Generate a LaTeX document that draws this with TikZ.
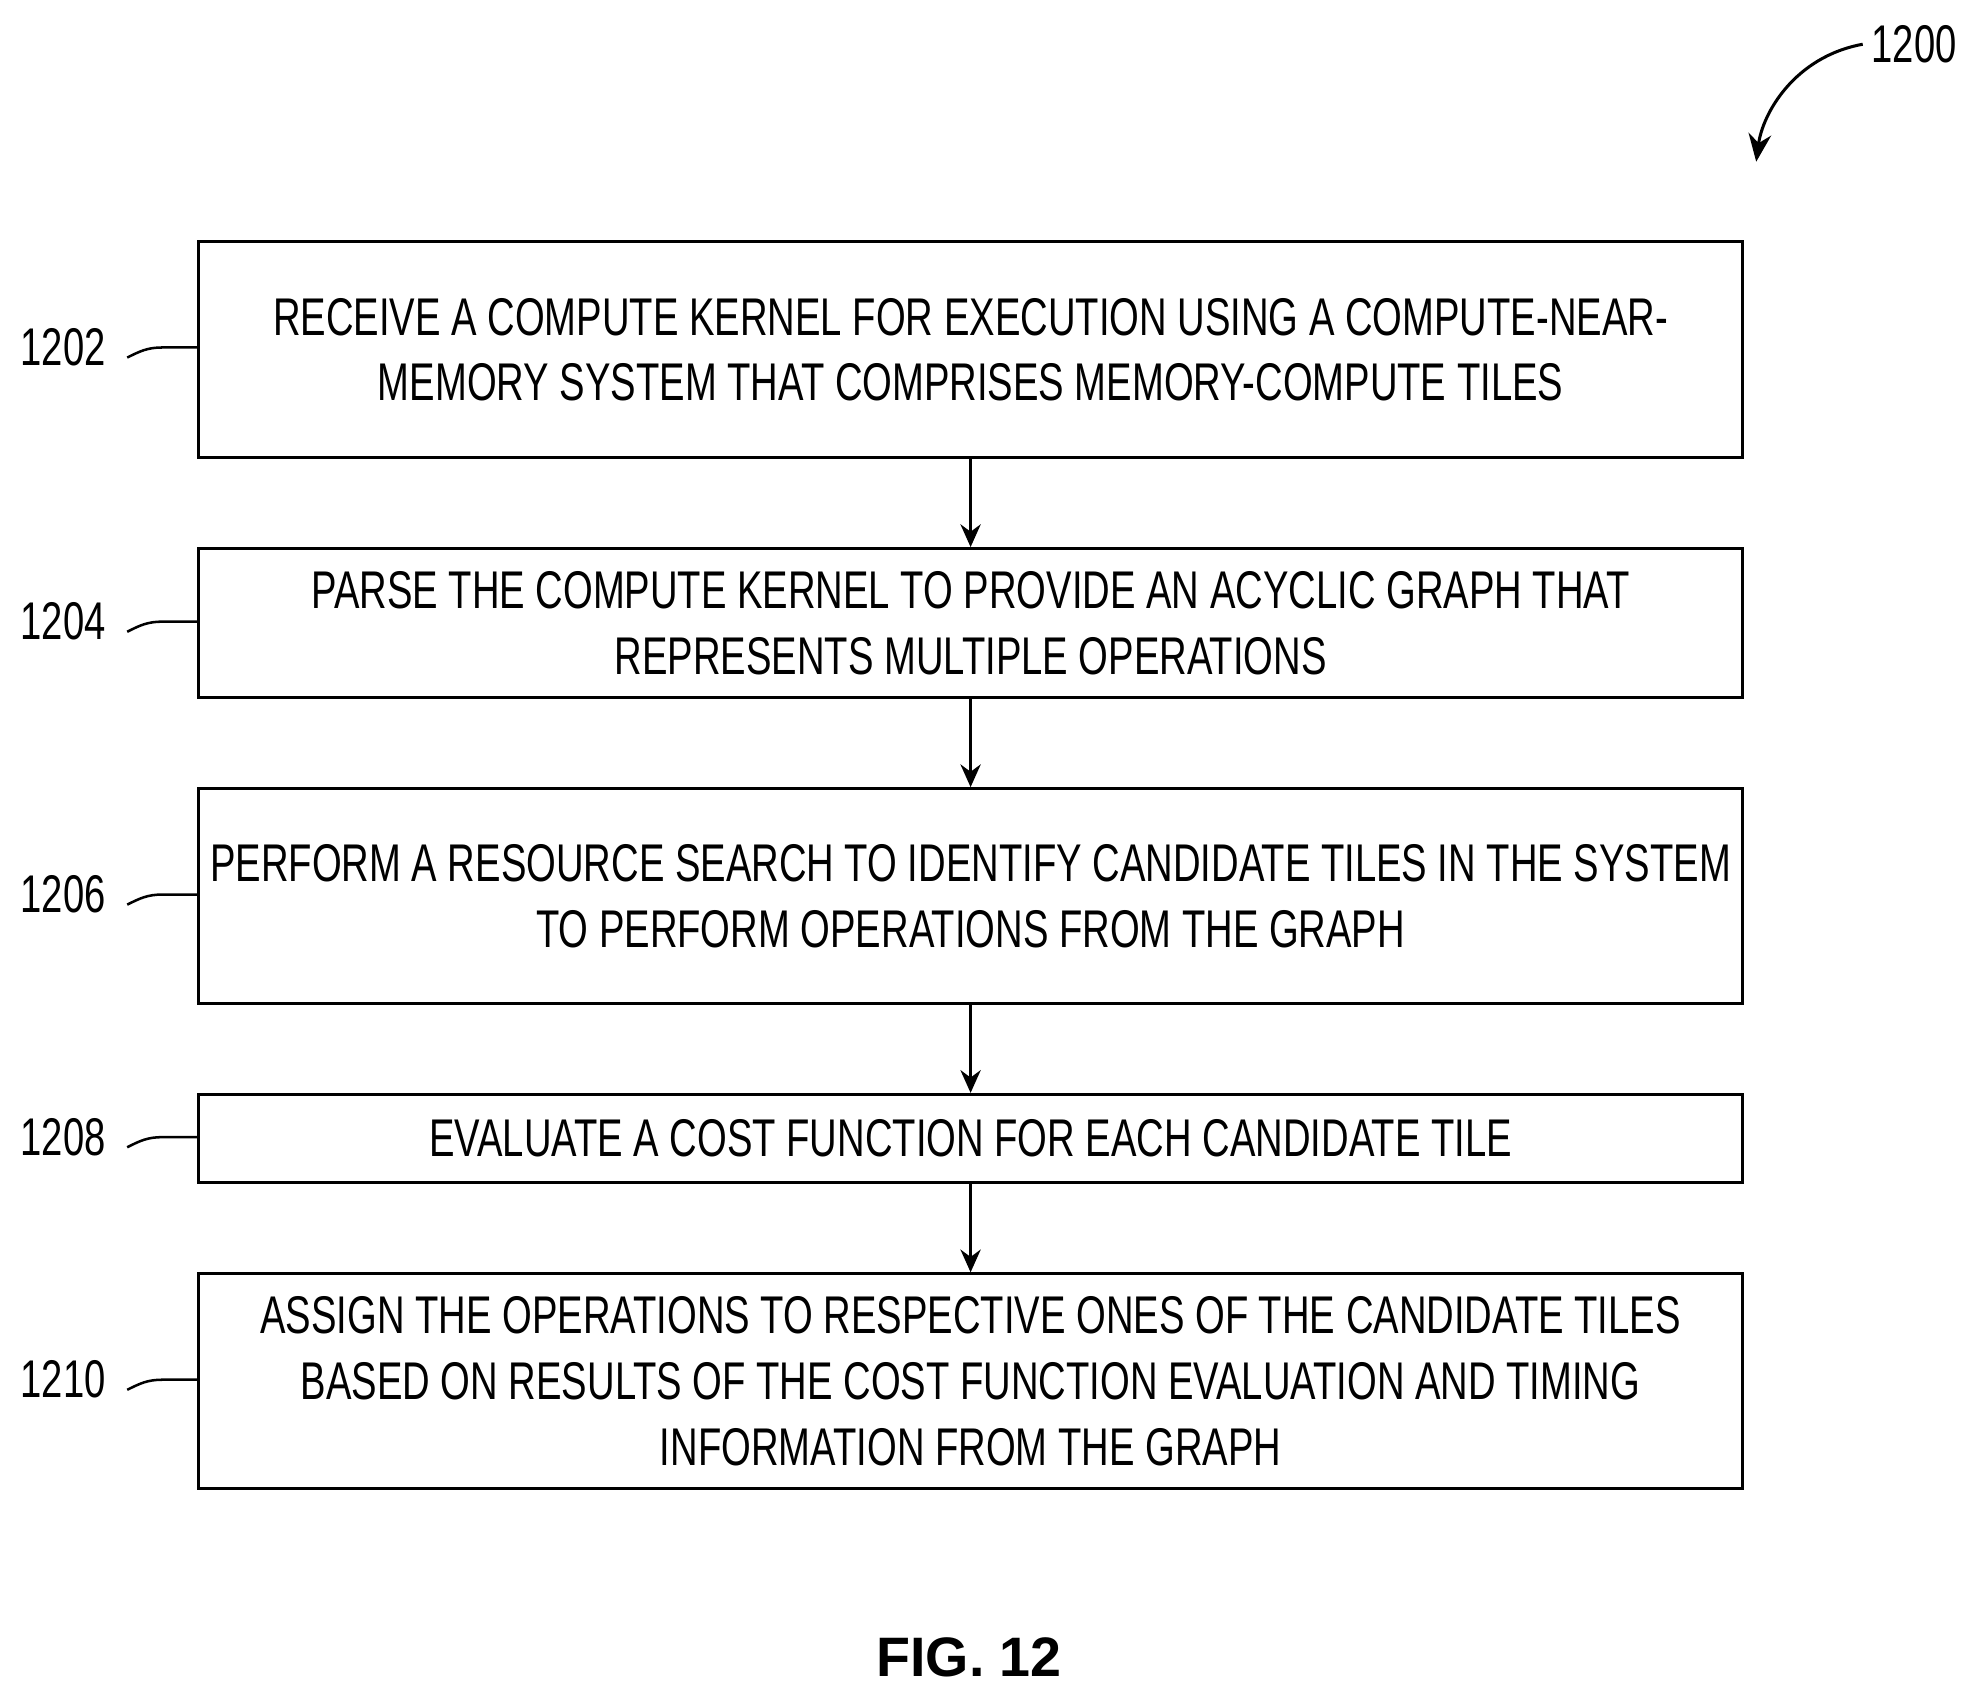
\documentclass[tikz,border=0pt]{standalone}
\usepackage{fontspec}
\usetikzlibrary{arrows.meta}
\setmainfont{Liberation Sans}[FakeStretch=0.72]
\newfontfamily\figfont{Liberation Sans}
\begin{document}
\begin{tikzpicture}[x=0.5pt,y=-0.5pt,
  box/.style={draw,line width=1.2pt,minimum width=611pt,anchor=north west,inner sep=0pt,align=center,font=\fontsize{21}{26}\selectfont},
  lab/.style={font=\fontsize{21}{26}\selectfont},
  arr/.style={-{Stealth[length=9pt,width=8pt]},line width=1.2pt}]
\useasboundingbox (0,0) rectangle (1560,1340);
\node[box,minimum height=85.5pt] (b1) at (156,190) {RECEIVE A COMPUTE KERNEL FOR EXECUTION USING A COMPUTE-NEAR-\\MEMORY SYSTEM THAT COMPRISES MEMORY-COMPUTE TILES};
\node[box,minimum height=59pt] (b2) at (156,433) {PARSE THE COMPUTE KERNEL TO PROVIDE AN ACYCLIC GRAPH THAT\\REPRESENTS MULTIPLE OPERATIONS};
\node[box,minimum height=85pt] (b3) at (156,623) {PERFORM A RESOURCE SEARCH TO IDENTIFY CANDIDATE TILES IN THE SYSTEM\\TO PERFORM OPERATIONS FROM THE GRAPH};
\node[box,minimum height=35pt] (b4) at (156,865) {EVALUATE A COST FUNCTION FOR EACH CANDIDATE TILE};
\node[box,minimum height=85pt] (b5) at (156,1007) {ASSIGN THE OPERATIONS TO RESPECTIVE ONES OF THE CANDIDATE TILES\\BASED ON RESULTS OF THE COST FUNCTION EVALUATION AND TIMING\\INFORMATION FROM THE GRAPH};
\draw[arr] (b1.south) -- (b2.north);
\draw[arr] (b2.south) -- (b3.north);
\draw[arr] (b3.south) -- (b4.north);
\draw[arr] (b4.south) -- (b5.north);
\foreach \n/\t/\y in {l1/1202/275,l2/1204/492,l3/1206/708,l4/1208/900,l5/1210/1092}{
  \node[lab] (\n) at (50,\y) {\t};
  \coordinate (\n e) at (156,\y);
  \draw[line width=1pt] (\n.east) ++(10,8) .. controls +(10,-5) and +(-12,0) .. +(28,-8) coordinate (m\n) .. controls +(12,0) and +(-10,0) .. (\n e);
}
\node[lab] (n1200) at (1515,35) {1200};
\coordinate (t1200) at (1390,128);
\draw[-{Stealth[length=11pt,width=9pt]},line width=1.2pt] (n1200.west) .. controls (1420,45) and (1395,90) .. (t1200);
\node[font=\figfont\bfseries\fontsize{22}{26}\selectfont] (fig) at (767,1312) {FIG. 12};
\end{tikzpicture}
\end{document}
